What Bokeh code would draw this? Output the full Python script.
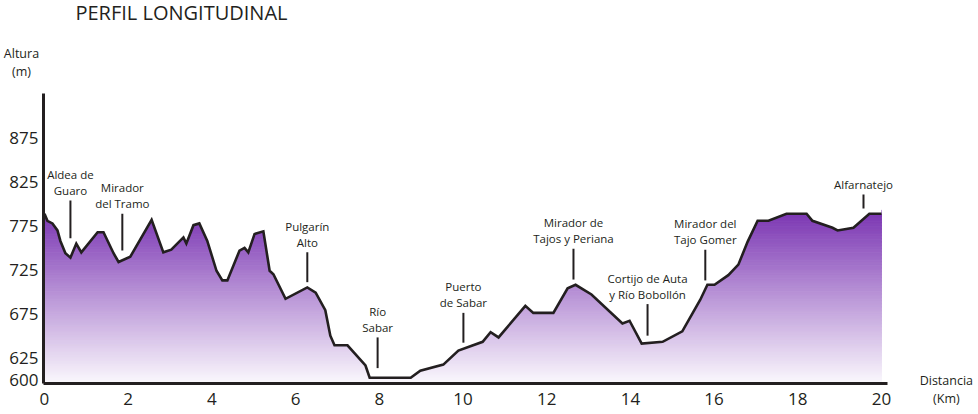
import numpy as np
from bokeh.plotting import figure
from bokeh.models import FixedTicker, Range1d
from bokeh.core.properties import value
from bokeh.embed import file_html
from bokeh.resources import INLINE

# ---- data ----
dist_km = [0.0, 0.07, 0.19, 0.31, 0.38, 0.50, 0.62, 0.76, 0.88, 1.27,
           1.41, 1.65, 1.77, 2.05, 2.56, 2.84, 3.03, 3.32, 3.39, 3.56,
           3.70, 3.89, 4.11, 4.25, 4.37, 4.66, 4.78, 4.87, 5.02, 5.23,
           5.38, 5.47, 5.76, 6.28, 6.48, 6.71, 6.83, 6.93, 7.24, 7.67,
           7.77, 8.75, 8.98, 9.53, 9.89, 10.47, 10.66, 10.85, 11.49, 11.68,
           12.16, 12.50, 12.69, 13.07, 13.81, 13.98, 14.27, 14.77, 15.24, 15.67,
           15.84, 16.01, 16.34, 16.58, 16.80, 17.04, 17.30, 17.73, 18.21, 18.35,
           18.83, 18.95, 19.33, 19.71, 20.0]
elev_m = [789, 781, 778, 770, 758, 744, 739, 755, 745, 768,
          768, 744, 734, 740, 782, 745, 748, 762, 755, 776,
          778, 758, 724, 713, 713, 747, 750, 745, 766, 769,
          724, 720, 692, 705, 699, 679, 650, 639, 639, 616,
          602, 602, 610, 617, 633, 643, 654, 648, 684, 676,
          676, 704, 708, 697, 664, 667, 641, 643, 655, 691,
          708, 708, 719, 731, 757, 781, 781, 789, 789, 781,
          773, 770, 773, 789, 789]

place_line1 = ["Aldea de", "Mirador", "Pulgarín", "Río", "Puerto",
               "Mirador de", "Cortijo de Auta", "Mirador del", ""]
place_line2 = ["Guaro", "del Tramo", "Alto", "Sabar", "de Sabar",
               "Tajos y Periana", "y Río Bobollón", "Tajo Gomer", "Alfarnatejo"]
place_km = [0.62, 1.86, 6.28, 7.96, 10.01, 12.64, 14.41, 15.79, 19.57]
leader_top = [804, 789, 745, 648, 676, 749, 686, 748, 811]
leader_bottom = [761, 747, 711, 613, 642, 714, 650, 713, 795]

x_ticks = [0, 2, 4, 6, 8, 10, 12, 14, 16, 18, 20]
y_ticks = [600, 625, 675, 725, 775, 825, 875]

FONT = "Open Sans"
INK = "#231f20"

# axis extents (km / m)
AX_X0, AX_X1 = -0.024, 20.143
AX_Y0, AX_Y1 = 595.4, 926.1

# the plot area covers the whole canvas so that the outer texts are not clipped
p = figure(width=978, height=414, output_backend="svg", toolbar_location=None,
           x_range=Range1d(-1.051, 22.318), y_range=Range1d(560.1, 1032.2),
           min_border=0)
p.outline_line_color = None
p.grid.visible = False
p.background_fill_color = "white"
p.border_fill_color = "white"

# ---- gradient fill: horizontal bands, then white mask above the profile ----
n_bands = 120
top_e = max(elev_m) + 4
edges = np.linspace(AX_Y0, top_e, n_bands + 1)
c_top = np.array([122, 52, 178])
c_bot = np.array([251, 249, 253])
colors = []
for i in range(n_bands):
    t = (edges[i] + edges[i + 1]) / 2
    f = (t - AX_Y0) / (top_e - AX_Y0)
    c = c_bot + (c_top - c_bot) * f
    colors.append("#%02x%02x%02x" % tuple(int(round(v)) for v in c))
p.quad(left=dist_km[0], right=dist_km[-1], bottom=edges[:-1], top=edges[1:],
       fill_color=colors, line_color=colors, line_width=1)
p.varea(x=dist_km, y1=elev_m, y2=AX_Y1 + 5, fill_color="white")

# ---- profile line ----
p.line(dist_km, elev_m, line_color=INK, line_width=2.6, line_join="miter")

# ---- place annotations ----
p.segment(x0=place_km, y0=leader_bottom, x1=place_km, y1=leader_top,
          line_color=INK, line_width=2)
p.text(x=place_km, y=leader_top, text=place_line2, y_offset=-10,
       text_align="center", text_baseline="middle",
       text_font=value(FONT), text_font_size="11.5px", text_color=INK)
p.text(x=place_km, y=leader_top, text=place_line1, y_offset=-26,
       text_align="center", text_baseline="middle",
       text_font=value(FONT), text_font_size="11.5px", text_color=INK)

# ---- axes, fixed inside the canvas-wide plot area ----
xa = p.xaxis[0]
ya = p.yaxis[0]
xa.fixed_location = AX_Y0
ya.fixed_location = AX_X0
xa.bounds = (AX_X0, AX_X1)
ya.bounds = (AX_Y0, AX_Y1)
for ax in (xa, ya):
    ax.axis_line_width = 3
    ax.axis_line_color = INK
    ax.major_tick_line_color = None
    ax.minor_tick_line_color = None
    ax.major_tick_out = 0
    ax.major_tick_in = 0
    ax.major_label_text_font = FONT
    ax.major_label_text_font_size = "17px"
    ax.major_label_text_color = INK
xa.ticker = FixedTicker(ticks=x_ticks)
ya.ticker = FixedTicker(ticks=y_ticks)
xa.major_label_standoff = 9
ya.major_label_standoff = 5

# ---- titles ----
p.text(x=[0.74], y=[1018.5], text=["PERFIL LONGITUDINAL"], text_align="left",
       text_baseline="middle", text_font=value(FONT), text_font_size="20px",
       text_color=INK)
p.text(x=[-0.55, -0.55], y=[971.7, 951.2], text=["Altura", "(m)"],
       text_align="center", text_baseline="middle", text_font=value(FONT),
       text_font_size="12.5px", text_color=INK)
p.text(x=[21.55, 21.55], y=[598.9, 578.3], text=["Distancia", "(Km)"],
       text_align="center", text_baseline="middle", text_font=value(FONT),
       text_font_size="12.5px", text_color=INK)

open("out.html", "w").write(file_html(p, INLINE))
